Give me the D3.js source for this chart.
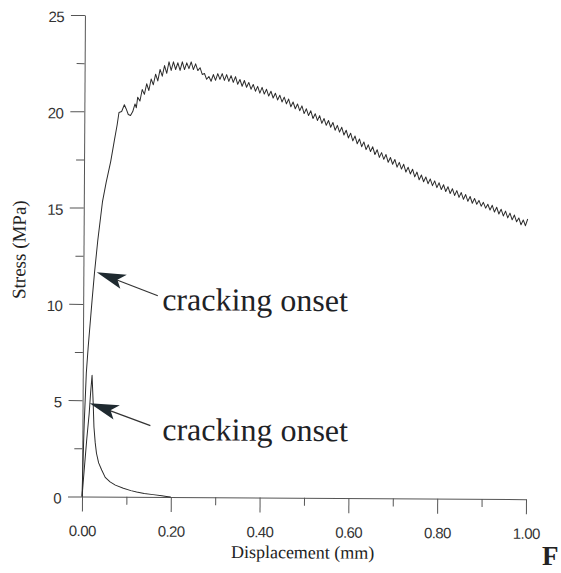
<!DOCTYPE html>
<html>
<head>
<meta charset="utf-8">
<script src="https://cdn.jsdelivr.net/npm/d3@7"></script>
<style>
  body { margin: 0; background: #fff; }
  svg { display: block; }
</style>
</head>
<body>
<svg id="chart"></svg>
<script>
    // displacement (mm), stress (MPa) -- specimen that keeps carrying load
    const mainRise = [
        [0, 0], [0.002, 2.0], [0.004, 3.8], [0.008, 6.4], [0.012, 7.8], [0.016, 9.0],
        [0.020, 10.2], [0.025, 11.6], [0.032, 13.3], [0.042, 15.3], [0.050, 16.3],
        [0.060, 17.4], [0.068, 18.5], [0.074, 19.3], [0.078, 19.95], [0.084, 20.0],
        [0.090, 20.35], [0.094, 20.15], [0.099, 19.85], [0.104, 19.8], [0.109, 20.0],
        [0.114, 20.4], [0.117, 20.2]
    ];
    const mainPost = [
        [0.120, 20.75], [0.125, 20.55], [0.130, 21.15], [0.135, 20.9], [0.140, 21.45], [0.145, 21.1],
        [0.150, 21.7], [0.155, 21.4], [0.160, 21.95], [0.165, 21.6], [0.170, 22.2], [0.175, 21.85],
        [0.180, 22.4], [0.185, 22.0], [0.190, 22.6], [0.195, 22.15], [0.200, 22.6], [0.205, 22.2],
        [0.210, 22.55], [0.215, 22.15], [0.220, 22.6], [0.225, 22.2], [0.230, 22.55], [0.235, 22.25],
        [0.240, 22.6], [0.245, 22.2], [0.250, 22.5], [0.255, 22.15], [0.260, 22.3], [0.265, 21.95],
        [0.270, 22.0], [0.275, 21.7], [0.280, 21.85], [0.285, 21.6], [0.290, 21.95], [0.295, 21.65],
        [0.300, 22.0], [0.305, 21.7], [0.310, 22.0], [0.315, 21.65], [0.320, 21.95], [0.325, 21.6],
        [0.330, 21.9], [0.335, 21.55], [0.340, 21.85], [0.345, 21.45], [0.350, 21.7], [0.355, 21.35],
        [0.360, 21.65], [0.365, 21.3], [0.370, 21.55], [0.375, 21.2], [0.380, 21.45], [0.385, 21.1],
        [0.390, 21.35], [0.395, 21.0], [0.400, 21.3], [0.405, 20.95], [0.410, 21.2], [0.415, 20.85],
        [0.420, 21.1], [0.425, 20.75], [0.430, 21.0], [0.435, 20.65], [0.440, 20.9], [0.445, 20.55],
        [0.450, 20.8], [0.455, 20.45], [0.460, 20.7], [0.465, 20.3], [0.470, 20.55], [0.475, 20.2],
        [0.480, 20.45], [0.485, 20.1], [0.490, 20.35], [0.495, 19.95], [0.500, 20.2], [0.505, 19.85],
        [0.510, 20.1], [0.515, 19.7], [0.520, 19.95], [0.525, 19.6], [0.530, 19.85], [0.535, 19.45],
        [0.540, 19.7], [0.545, 19.35], [0.550, 19.6], [0.555, 19.25], [0.560, 19.5], [0.565, 19.1],
        [0.570, 19.35], [0.575, 19.0], [0.580, 19.25], [0.585, 18.85], [0.590, 19.1], [0.595, 18.7],
        [0.600, 18.95], [0.605, 18.55], [0.610, 18.8], [0.615, 18.4], [0.620, 18.65], [0.625, 18.25],
        [0.630, 18.5], [0.635, 18.1], [0.640, 18.35], [0.645, 18.0], [0.650, 18.25], [0.655, 17.85],
        [0.660, 18.1], [0.665, 17.7], [0.670, 17.95], [0.675, 17.6], [0.680, 17.85], [0.685, 17.45],
        [0.690, 17.7], [0.695, 17.35], [0.700, 17.6], [0.705, 17.2], [0.710, 17.45], [0.715, 17.1],
        [0.720, 17.35], [0.725, 16.95], [0.730, 17.2], [0.735, 16.85], [0.740, 17.1], [0.745, 16.7],
        [0.750, 16.95], [0.755, 16.55], [0.760, 16.8], [0.765, 16.45], [0.770, 16.7], [0.775, 16.35],
        [0.780, 16.6], [0.785, 16.25], [0.790, 16.5], [0.795, 16.15], [0.800, 16.4], [0.805, 16.05],
        [0.810, 16.3], [0.815, 15.95], [0.820, 16.2], [0.825, 15.85], [0.830, 16.1], [0.835, 15.75],
        [0.840, 16.0], [0.845, 15.65], [0.850, 15.9], [0.855, 15.55], [0.860, 15.8], [0.865, 15.45],
        [0.870, 15.7], [0.875, 15.35], [0.880, 15.6], [0.885, 15.3], [0.890, 15.5], [0.895, 15.2],
        [0.900, 15.4], [0.905, 15.1], [0.910, 15.3], [0.915, 15.0], [0.920, 15.25], [0.925, 14.9],
        [0.930, 15.15], [0.935, 14.8], [0.940, 15.05], [0.945, 14.7], [0.950, 14.95], [0.955, 14.6],
        [0.960, 14.85], [0.965, 14.5], [0.970, 14.75], [0.975, 14.4], [0.980, 14.6], [0.985, 14.25],
        [0.990, 14.5], [0.995, 14.2], [1.000, 14.55]
    ];
    // plain specimen: brittle drop after the peak
    const plainCurve = [
        [0, 0], [0.005, 1.5], [0.010, 3.0], [0.015, 4.3], [0.018, 5.4], [0.021, 6.3],
        [0.024, 4.8], [0.026, 3.6], [0.029, 2.8], [0.032, 2.25], [0.037, 1.75], [0.044, 1.38],
        [0.052, 1.0], [0.063, 0.77], [0.075, 0.6], [0.093, 0.44], [0.110, 0.32], [0.123, 0.25],
        [0.140, 0.18], [0.160, 0.12], [0.180, 0.06], [0.190, 0.03], [0.200, 0]
    ];

    const xTicks = [0, 0.2, 0.4, 0.6, 0.8, 1.0];
    const xMinorTicks = [0.1, 0.3, 0.5, 0.7, 0.9];
    const yTicks = [0, 5, 10, 15, 20, 25];
    const yMinorTicks = [2.5, 7.5, 12.5, 17.5, 22.5];

    const noteText = ["cracking onset", "cracking onset"];
    const noteTips = [[0.030, 11.65], [0.016, 4.85]];
    const noteTails = [[0.168, 10.45], [0.153, 3.7]];
    const noteAnchors = [[0.178, 9.7], [0.180, 2.95]];

    const width = 561, height = 573;
    const serif = "'Liberation Serif', 'Times New Roman', serif";
    const sans = "'Liberation Sans', Arial, sans-serif";

    const svg = d3.select("#chart")
        .attr("width", width)
        .attr("height", height);

    const x = d3.scaleLinear().domain([0, 1]).range([82, 526]);
    const y = d3.scaleLinear().domain([0, 25]).range([496.5, 15]);

    // the scan is tilted a touch clockwise
    const g = svg.append("g")
        .attr("transform", `rotate(0.35, ${x(0)}, ${y(0)})`);

    // axes
    g.append("g")
        .attr("transform", `translate(0,${y(0)})`)
        .call(d3.axisBottom(x).tickValues(xTicks).tickSize(15).tickSizeOuter(0)
            .tickPadding(14).tickFormat(d3.format(".2f")));
    g.append("g")
        .attr("transform", `translate(0,${y(0)})`)
        .call(d3.axisBottom(x).tickValues(xMinorTicks).tickSize(8).tickFormat(""))
        .select(".domain").remove();

    const yAxis = g.append("g")
        .attr("transform", `translate(${x(0)},0)`)
        .call(d3.axisLeft(y).tickValues(yTicks).tickSize(14).tickSizeOuter(0).tickPadding(7));
    g.append("g")
        .attr("transform", `translate(${x(0)},0)`)
        .call(d3.axisLeft(y).tickValues(yMinorTicks).tickSize(8).tickFormat(""))
        .select(".domain").remove();

    g.selectAll(".domain, .tick line").attr("stroke", "#555").attr("stroke-width", 1);
    g.selectAll(".tick text")
        .attr("fill", "#333")
        .style("font-family", sans)
        .style("font-size", "15px")
        .style("letter-spacing", "-0.6px");
    yAxis.selectAll(".tick text").attr("dy", "0.45em");

    // curves
    const line = d3.line().x(d => x(d[0])).y(d => y(d[1]));
    g.append("path")
        .datum(mainRise.concat(mainPost))
        .attr("d", line)
        .attr("fill", "none")
        .attr("stroke", "#2b2b2b")
        .attr("stroke-width", 1)
        .attr("stroke-linejoin", "round");
    g.append("path")
        .datum(plainCurve)
        .attr("d", line)
        .attr("fill", "none")
        .attr("stroke", "#2b2b2b")
        .attr("stroke-width", 1)
        .attr("stroke-linejoin", "round");

    // annotations
    noteText.forEach((label, i) => {
        const tx = x(noteTips[i][0]), ty = y(noteTips[i][1]);
        const ex = x(noteTails[i][0]), ey = y(noteTails[i][1]);
        const ang = Math.atan2(ey - ty, ex - tx) * 180 / Math.PI;
        g.append("line")
            .attr("x1", tx + (ex - tx) * 0.3).attr("y1", ty + (ey - ty) * 0.3)
            .attr("x2", ex).attr("y2", ey)
            .attr("stroke", "#333").attr("stroke-width", 1.2);
        g.append("path")
            .attr("d", "M0,0 L29,-8.5 L22,-0.5 L28,7 Z")
            .attr("transform", `translate(${tx},${ty}) rotate(${ang})`)
            .attr("fill", "#1f2a30");
        g.append("text")
            .attr("x", x(noteAnchors[i][0]))
            .attr("y", y(noteAnchors[i][1]))
            .attr("fill", "#1e2226")
            .style("font-family", serif)
            .style("font-size", "32px")
            .text(label);
    });

    // axis titles
    g.append("text")
        .attr("x", 303).attr("y", 557)
        .attr("text-anchor", "middle")
        .attr("fill", "#222")
        .style("font-family", serif)
        .style("font-size", "18px")
        .text("Displacement (mm)");
    g.append("text")
        .attr("transform", "translate(24,250) rotate(-90)")
        .attr("text-anchor", "middle")
        .attr("fill", "#222")
        .style("font-family", serif)
        .style("font-size", "19px")
        .text("Stress (MPa)");

    // figure letter at the page corner
    svg.append("text")
        .attr("x", 542).attr("y", 565)
        .attr("fill", "#222")
        .style("font-family", serif)
        .style("font-weight", "bold")
        .style("font-size", "27px")
        .text("F");
</script>
</body>
</html>
